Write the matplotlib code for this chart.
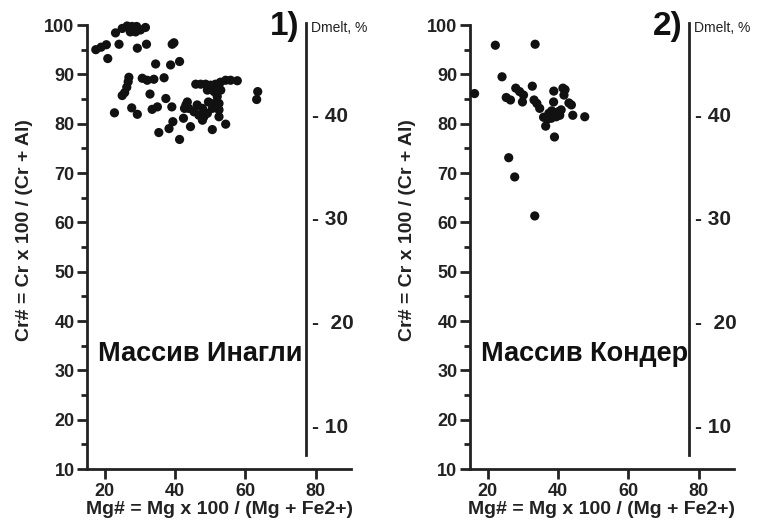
import matplotlib
matplotlib.use("Agg")
import matplotlib.pyplot as plt
from matplotlib.ticker import MultipleLocator

plt.rcParams['font.family'] = ['Liberation Sans', 'DejaVu Sans']

# panel 1 - Ingali massif
mg_1 = [17.5, 19.0, 20.5, 20.9, 22.8, 23.1, 24.1, 25.0, 26.4, 27.8, 28.8, 30.2,
        31.6, 27.3, 29.1, 29.3, 31.9, 26.9, 26.7, 26.3, 25.7, 25.0, 27.7, 29.3,
        30.7, 32.1, 34.0, 32.9, 34.5, 36.9, 37.4, 33.5, 35.0, 39.2, 39.7, 38.75,
        41.3, 39.1, 35.4, 38.3, 39.4, 41.3, 43.5, 42.7, 42.4, 44.4, 43.9, 43.1,
        45.9, 47.3, 48.7, 50.1, 51.5, 52.9, 54.4, 55.8, 57.7,
        49.2, 51.1, 53.0, 52.0, 52.5, 52.5, 52.5, 50.6, 49.2, 47.8, 46.8, 47.8,
        48.2, 50.6, 54.4, 46.3, 45.4, 49.5, 51.1, 63.5, 63.2]
cr_1 = [95.0, 95.5, 96.0, 93.2, 82.2, 98.4, 96.1, 99.3, 99.8, 99.7, 98.6, 99.0,
        99.5, 98.6, 99.7, 95.3, 96.1, 89.4, 88.5, 87.4, 86.3, 85.7, 83.2, 81.9,
        89.2, 88.8, 89.0, 86.0, 92.1, 89.3, 85.1, 82.9, 83.4, 96.1, 96.4, 91.9,
        92.6, 83.4, 78.2, 79.0, 80.4, 76.8, 84.4, 83.1, 81.1, 79.4, 83.1, 83.8,
        88.0, 88.0, 88.0, 87.8, 88.0, 88.4, 88.8, 88.8, 88.7,
        86.8, 86.5, 86.8, 85.5, 84.1, 82.8, 81.4, 83.1, 82.1, 83.1, 81.7, 80.7,
        81.4, 78.8, 79.9, 83.8, 82.4, 84.4, 84.1, 86.5, 84.9]

# panel 2 - Konder massif
mg_2 = [16.3, 22.2, 33.5, 24.1, 25.3, 26.5, 28.0, 29.1, 30.2, 29.9, 32.7, 33.2,
        34.0, 34.8, 35.9, 36.5, 37.4, 38.1, 38.75, 38.8, 39.5, 40.0, 40.5, 41.4,
        41.7, 39.0, 42.0, 43.1, 43.8, 44.2, 47.6, 26.0, 27.7, 33.4, 37.0, 38.2,
        40.9]
cr_2 = [86.1, 95.9, 96.1, 89.5, 85.3, 84.8, 87.2, 86.5, 85.8, 84.4, 87.6, 84.8,
        84.1, 83.1, 81.3, 79.5, 82.1, 81.1, 84.4, 86.6, 81.4, 82.4, 81.7, 87.2,
        85.8, 77.3, 86.9, 84.2, 83.8, 81.7, 81.4, 73.1, 69.2, 61.3, 80.9, 82.6,
        82.8]

panels = [(mg_1, cr_1, 'Массив Инагли', '1)'),
          (mg_2, cr_2, 'Массив Кондер', '2)')]
dmelt_ticks = [10, 20, 30, 40]
dmelt_labels = ['- 10', '-  20', '- 30', '- 40']

fig = plt.figure(figsize=(7.66, 5.24), dpi=100)
lefts = [87 / 766, 470 / 766]

for (mg, cr, name, num), left in zip(panels, lefts):
    ax = fig.add_axes([left, 1 - 469 / 524, 264 / 766, 444 / 524])
    ax.scatter(mg, cr, s=44, color='#111111', edgecolors='none', zorder=3,
               clip_on=False)
    ax.set_xlim(15, 90)
    ax.set_ylim(10, 100)
    for sp in ['top', 'right']:
        ax.spines[sp].set_visible(False)
    for sp in ['left', 'bottom']:
        ax.spines[sp].set_linewidth(2)
        ax.spines[sp].set_color('#222222')
    ax.set_xticks([20, 40, 60, 80])
    ax.set_yticks(range(10, 101, 10))
    ax.yaxis.set_minor_locator(MultipleLocator(5))
    ax.tick_params(which='major', length=7, width=2, color='#222222',
                   labelsize=13, pad=2)
    ax.tick_params(axis='x', which='major', pad=3)
    ax.tick_params(which='minor', length=4, width=2, color='#222222')
    for lab in ax.get_xticklabels() + ax.get_yticklabels():
        lab.set_fontweight('bold')
        lab.set_color('#222222')
    ax.set_xlabel('Mg# = Mg x 100 / (Mg + Fe2+)', fontsize=14,
                  fontweight='bold', color='#222222')
    ax.set_ylabel('Cr# = Cr x 100 / (Cr + Al)', fontsize=14,
                  fontweight='bold', color='#222222')
    ax.xaxis.set_label_coords(0.5, -0.072)
    ax.yaxis.set_label_coords(-0.205, 0.538)

    ax.text(18.0, 33.3, name, fontsize=19.5, fontweight='bold', va='center',
            ha='left', color='#111111')
    ax.text(75.3, 99.6, num, fontsize=24, fontweight='bold', va='center',
            ha='right', color='#111111')
    ax.text(78.6, 99.4, 'Dmelt, %', fontsize=10, va='center', ha='left',
            color='#222222')

    # Dmelt scale
    dax = ax.inset_axes([77.35, 12.8, 0.01, 87.6], transform=ax.transData)
    dax.set_ylim(7.1, 48.8)
    dax.patch.set_visible(False)
    for sp in ['top', 'right', 'bottom']:
        dax.spines[sp].set_visible(False)
    dax.spines['left'].set_linewidth(2)
    dax.spines['left'].set_color('#222222')
    dax.set_xticks([])
    dax.yaxis.tick_right()
    dax.set_yticks(dmelt_ticks)
    dax.set_yticklabels(dmelt_labels, fontsize=15, fontweight='bold',
                        color='#222222')
    dax.tick_params(axis='y', length=0, pad=4)

fig.savefig('out.png', dpi=100)
